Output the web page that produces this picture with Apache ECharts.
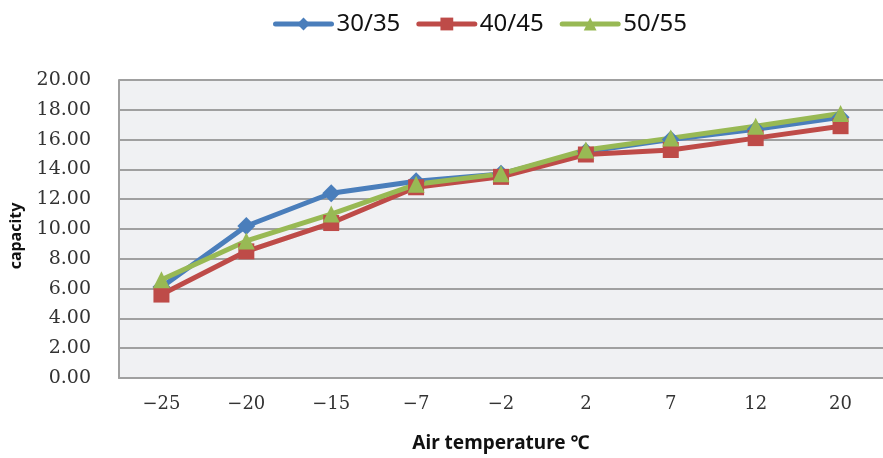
<!DOCTYPE html>
<html>
<head>
<meta charset="utf-8">
<style>html,body{margin:0;padding:0;background:#fff}#c{width:883px;height:458px}</style>
<script src="https://cdn.jsdelivr.net/npm/echarts@6/dist/echarts.min.js"></script>
</head>
<body>
<div id="c"></div>
<script>
const categories = ["-25", "-20", "-15", "-7", "-2", "2", "7", "12", "20"];
const s3035 = [6.1, 10.2, 12.4, 13.2, 13.7, 15.2, 16.0, 16.7, 17.5];
const s4045 = [5.6, 8.5, 10.4, 12.8, 13.5, 15.0, 15.3, 16.1, 16.9];
const s5055 = [6.6, 9.2, 11.0, 13.0, 13.7, 15.3, 16.1, 16.9, 17.75];
const seriesNames = ["30/35", "40/45", "50/55"];

const chart = echarts.init(document.getElementById('c'), null, {renderer: 'canvas'});
const mk = (name, data, color, symbol, size) => ({
  name, type: 'line', data, color,
  symbol, symbolSize: size, showSymbol: true,
  lineStyle: {width: 5, color},
  itemStyle: {color},
  animation: false
});
chart.setOption({
  animation: false,
  backgroundColor: '#ffffff',
  legend: {
    top: 7, left: 268,
    itemWidth: 56, itemHeight: 16, itemGap: 16,
    lineStyle: {width: 5, cap: 'round'},
    textStyle: {fontFamily: 'Noto Sans', fontSize: 24, color: '#111'},
    data: seriesNames
  },
  grid: {left: 118, top: 80, width: 774, height: 302, show: true, backgroundColor: '#f0f1f3', borderWidth: 0},
  xAxis: {
    type: 'category', data: categories, boundaryGap: true,
    axisLine: {show: true, lineStyle: {color: '#a0a0a0', width: 2}},
    axisTick: {show: false},
    axisLabel: {margin: 17, fontFamily: 'DejaVu Serif', fontSize: 18, color: '#333',
      formatter: v => v.replace('-', '\u2212')},
    name: 'Air temperature \u2103', nameLocation: 'middle', nameGap: 56,
    nameTextStyle: {fontFamily: 'Noto Sans', fontWeight: 'bold', fontSize: 19, color: '#111'}
  },
  yAxis: {
    type: 'value', min: 0, max: 20, interval: 2,
    axisLine: {show: true, lineStyle: {color: '#a0a0a0', width: 2}},
    axisTick: {show: false},
    splitLine: {show: true, lineStyle: {color: '#a0a0a0', width: 2}},
    axisLabel: {margin: 28, fontFamily: 'DejaVu Serif', fontSize: 19, color: '#333',
      formatter: v => v.toFixed(2)},
    name: 'capacity', nameLocation: 'middle', nameGap: 95, nameRotate: 90,
    nameTextStyle: {fontFamily: 'Noto Sans', fontWeight: 'bold', fontSize: 16, color: '#111', padding: [0, 14, 0, 0]}
  },
  series: [
    mk(seriesNames[0], s3035, '#4a7ebb', 'diamond', 18),
    mk(seriesNames[1], s4045, '#be4b48', 'rect', 16),
    mk(seriesNames[2], s5055, '#98b954', 'triangle', 17)
  ]
});
</script>
</body>
</html>
